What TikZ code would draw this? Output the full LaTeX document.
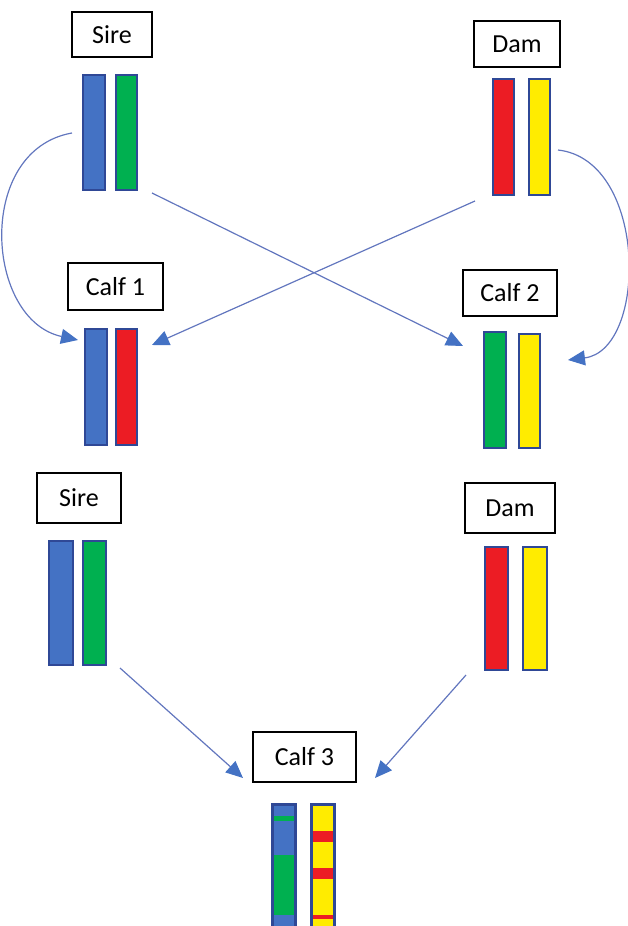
\documentclass[tikz,border=0pt]{standalone}
\usepackage{fontspec}
\setmainfont{Carlito}
\usetikzlibrary{arrows.meta}

\definecolor{chrblue}{RGB}{68,114,196}
\definecolor{chrgreen}{RGB}{0,176,80}
\definecolor{chrred}{RGB}{236,28,36}
\definecolor{chryellow}{RGB}{255,236,0}
\definecolor{chredge}{RGB}{47,72,150}
\definecolor{linkblue}{RGB}{98,118,190}
\definecolor{headblue}{RGB}{68,114,196}

\tikzset{
  namebox/.style={draw=black, line width=1.5pt, fill=white, inner sep=0pt,
    font=\fontsize{26}{30}\selectfont},
  chrom/.style={draw=chredge, line width=1.8pt, inner sep=0pt,
    minimum width=22pt, minimum height=116pt},
  link/.style={draw=linkblue, line width=1.2pt,
    -{Triangle[length=17pt,width=15pt,color=headblue,fill=headblue]}},
}

\begin{document}
\begin{tikzpicture}[x=1pt,y=-1pt]
\useasboundingbox (0,0) rectangle (628,926);
\clip (0,0) rectangle (628,926);

% ---- first cross: parents ----
\node[namebox, minimum width=80pt, minimum height=45pt] (sireA) at (112,34.5) {Sire};
\node[chrom, fill=chrblue, minimum height=115pt] (sireAb) at (94,132.5) {};
\node[chrom, fill=chrgreen, minimum width=21pt, minimum height=115pt] (sireAg) at (126.5,132.5) {};

\node[namebox, minimum width=86pt, minimum height=46pt] (damA) at (517,44) {Dam};
\node[chrom, fill=chrred, minimum width=21pt] (damAr) at (503.5,137) {};
\node[chrom, fill=chryellow, minimum width=21pt] (damAy) at (539.5,137) {};

% ---- first cross: offspring ----
\node[namebox, minimum width=95pt, minimum height=47pt] (calfA) at (115.5,286.5) {Calf 1};
\node[chrom, fill=chrblue] (calfAb) at (96,387) {};
\node[chrom, fill=chrred, minimum width=21pt] (calfAr) at (126.5,387) {};

\node[namebox, minimum width=94pt, minimum height=46pt] (calfB) at (510,293) {Calf 2};
\node[chrom, fill=chrgreen] (calfBg) at (495,390) {};
\node[chrom, fill=chryellow, minimum width=21pt, minimum height=114pt] (calfBy) at (529.5,391) {};

% ---- first cross: inheritance links ----
\coordinate (sOutL) at (72,133);
\coordinate (sOutR) at (152,193);
\coordinate (dOutL) at (475,201);
\coordinate (dOutR) at (558,150);
\coordinate (c1In)  at (78,340);
\coordinate (c1InR) at (152,345);
\coordinate (c2In)  at (463,346);
\coordinate (c2InR) at (568,360);

\draw[link] (sOutL) .. controls (-25,150) and (-15,320) .. (c1In);
\draw[link] (sOutR) -- (c2In);
\draw[link] (dOutL) -- (c1InR);
\draw[link] (dOutR) .. controls (648,160) and (648,350) .. (c2InR);

% ---- second cross: parents ----
\node[namebox, minimum width=84pt, minimum height=50pt] (sireB) at (79,498) {Sire};
\node[chrom, fill=chrblue, minimum width=24pt, minimum height=124pt] (sireBb) at (61,603) {};
\node[chrom, fill=chrgreen, minimum width=23pt, minimum height=124pt] (sireBg) at (94.5,603) {};

\node[namebox, minimum width=90pt, minimum height=50pt] (damB) at (510,508) {Dam};
\node[chrom, fill=chrred, minimum width=23pt, minimum height=123pt] (damBr) at (496.5,608.5) {};
\node[chrom, fill=chryellow, minimum width=24pt, minimum height=123pt] (damBy) at (535,608.5) {};

% ---- second cross: recombinant offspring ----
\node[namebox, minimum width=103pt, minimum height=50pt] (calfC) at (304.5,757) {Calf 3};
\node[chrom, fill=chrblue, minimum height=135pt] (calfCb) at (284,872.5) {};
\node[chrom, fill=chryellow, minimum height=135pt] (calfCy) at (323,872.5) {};
% crossover segments
\fill[chrgreen] (273.9,816) rectangle (294.1,821);
\fill[chrgreen] (273.9,855) rectangle (294.1,915);
\fill[chrred] (312.9,831) rectangle (333.1,842);
\fill[chrred] (312.9,868) rectangle (333.1,879);
\fill[chrred] (312.9,915) rectangle (333.1,919);
\draw[chredge, line width=1.8pt] (calfCb.north west) rectangle (calfCb.south east);
\draw[chredge, line width=1.8pt] (calfCy.north west) rectangle (calfCy.south east);

\coordinate (s2Out) at (120,668);
\coordinate (d2Out) at (466,675);
\coordinate (c3InL) at (243,778);
\coordinate (c3InR) at (375,778);
\draw[link] (s2Out) -- (c3InL);
\draw[link] (d2Out) -- (c3InR);
\end{tikzpicture}
\end{document}
